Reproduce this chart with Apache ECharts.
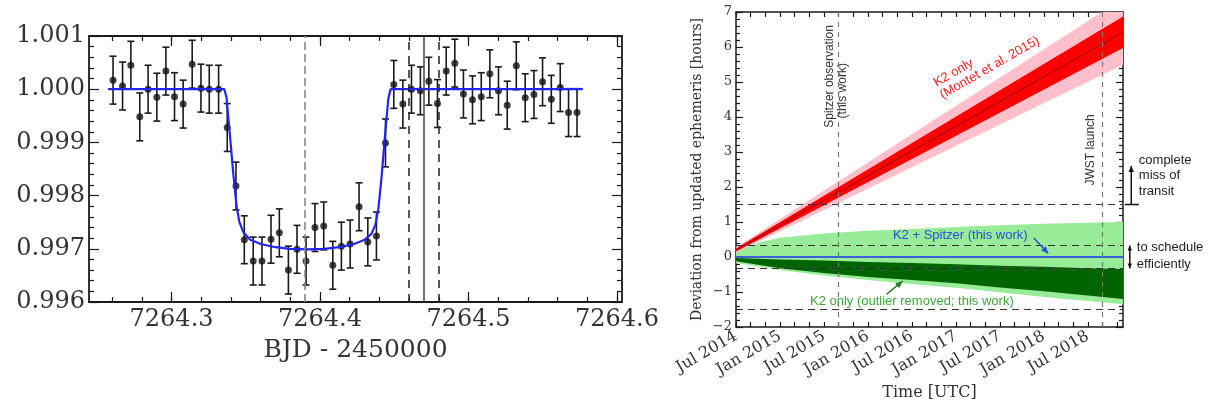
<!DOCTYPE html>
<html>
<head>
<meta charset="utf-8">
<title>K2-18b Spitzer transit and ephemeris</title>
<script src="https://cdn.jsdelivr.net/npm/echarts@6/dist/echarts.min.js"></script>
<style>
  html, body { margin: 0; padding: 0; background: #fff; }
  #chart { width: 1213px; height: 411px; }
</style>
</head>
<body>
<div id="chart"></div>
<script>
// ---------- left panel: Spitzer light curve ----------
const bjd = [7264.2606, 7264.2670, 7264.2726, 7264.2786, 7264.2842, 7264.2901, 7264.2962, 7264.3020, 7264.3078, 7264.3139,
  7264.3198, 7264.3254, 7264.3317, 7264.3375, 7264.3434, 7264.3490, 7264.3550, 7264.3609, 7264.3670, 7264.3726,
  7264.3787, 7264.3845, 7264.3906, 7264.3966, 7264.4025, 7264.4086, 7264.4144, 7264.4203, 7264.4263, 7264.4322,
  7264.4380, 7264.4441, 7264.4497, 7264.4558, 7264.4616, 7264.4676, 7264.4733, 7264.4791, 7264.4850, 7264.4908,
  7264.4966, 7264.5027, 7264.5086, 7264.5144, 7264.5202, 7264.5261, 7264.5322, 7264.5382, 7264.5441, 7264.5499,
  7264.5558, 7264.5618, 7264.5674, 7264.5731];
const flux = [1.00017, 1.00006, 1.00045, 0.99948, 1.00000, 0.99985, 1.00034, 0.99986, 0.99972, 1.00047,
  1.00002, 1.00000, 1.00000, 0.99928, 0.99818, 0.99717, 0.99677, 0.99677, 0.99718, 0.99730,
  0.99660, 0.99699, 0.99677, 0.99740, 0.99743, 0.99669, 0.99705, 0.99709, 0.99779, 0.99713,
  0.99724, 0.99899, 1.00009, 0.99972, 1.00000, 0.99997, 1.00015, 0.99973, 1.00034, 1.00049,
  0.99991, 0.99980, 0.99986, 1.00029, 0.99997, 0.99970, 1.00044, 0.99984, 0.99990, 1.00014,
  0.99981, 1.00003, 0.99956, 0.99956];
const fluxErr = 0.00045;

const modelBjd = [7264.2573, 7264.3355, 7264.3370, 7264.3390, 7264.3417, 7264.3437, 7264.3457, 7264.3484, 7264.3530,
  7264.3600, 7264.3700, 7264.3800, 7264.3915, 7264.4030, 7264.4130, 7264.4230, 7264.4300, 7264.4346, 7264.4373,
  7264.4393, 7264.4413, 7264.4440, 7264.4460, 7264.4475, 7264.5770];
const modelFlux = [1.0000, 1.0000, 0.99985, 0.99923, 0.99838, 0.99782, 0.99750, 0.99731, 0.99717,
  0.99709, 0.99703, 0.99700, 0.99699, 0.99700, 0.99703, 0.99709, 0.99717, 0.99728, 0.99745,
  0.99775, 0.99830, 0.99920, 0.99982, 1.0000, 1.0000];

const midTransit = 7264.3918;
const predicted = [7264.4585, 7264.4692, 7264.4798]; // -1 sigma, centre, +1 sigma
const bjdTicks = [7264.3, 7264.4, 7264.5, 7264.6];

// ---------- right panel: ephemeris forecast (hours) ----------
const timeTicks = [2014.5, 2015.0, 2015.5, 2016.0, 2016.5, 2017.0, 2017.5, 2018.0, 2018.5];
const timeLabels = ['Jul 2014', 'Jan 2015', 'Jul 2015', 'Jan 2016', 'Jul 2016', 'Jan 2017', 'Jul 2017', 'Jan 2018', 'Jul 2018'];

const redT = [2014.5, 2018.9];
const pinkLo = [0.12, 5.49];
const pinkHi = [0.28, 7.39];
const redLo = [0.16, 5.97];
const redHi = [0.24, 6.87];
const redMid = [0.20, 6.42];

const greenT = [2014.5, 2014.75, 2015.0, 2015.5, 2016.0, 2016.5, 2017.0, 2017.5, 2018.0, 2018.5, 2018.9];
const lightHi = [0.15, 0.41, 0.55, 0.67, 0.75, 0.80, 0.86, 0.91, 0.95, 0.98, 1.00];
const lightLo = [-0.17, -0.27, -0.37, -0.53, -0.66, -0.77, -0.88, -1.01, -1.14, -1.26, -1.35];
const darkHi = [-0.03, -0.05, -0.07, -0.10, -0.14, -0.17, -0.21, -0.25, -0.28, -0.32, -0.34];
const darkLo = [-0.12, -0.22, -0.32, -0.46, -0.57, -0.66, -0.75, -0.87, -0.98, -1.10, -1.20];

const blueT = [2014.5, 2018.9];
const blueV = [0, 0];

const limits = [1.5, 0.33, -0.33, -1.5];
const spitzerTime = 2015.664;
const jwstTime = 2018.66;

// ---------- styling ----------
const serif = "'DejaVu Serif', 'Liberation Serif', serif";
const sans = "'Liberation Sans', Arial, sans-serif";
const axisColor = '#1a1a1a';
const textColor = '#333';

const bjdMin = 7264.2444, bjdMax = 7264.6034;
const bjdMinor = [];
for (let v = 7264.26; v < 7264.605; v += 0.02) bjdMinor.push(+v.toFixed(2));
const tMin = 2014.5, tMax = 2018.9;
const timeMinor = [];
for (let m = 0; m <= 26; m++) timeMinor.push(tMin + m / 6);

const lineStyle = { color: axisColor, width: 1.2 };

const chart = echarts.init(document.getElementById('chart'));

function tickOnly(grid, pos, min, max, values, len) {
  return {
    gridIndex: grid, type: 'value', position: pos, min: min, max: max,
    axisLine: { show: false, onZero: false },
    axisTick: { inside: true, length: len, customValues: values, lineStyle: lineStyle },
    axisLabel: { show: false }, splitLine: { show: false }
  };
}

// filled band between lo and hi, drawn as one polygon through the axis scales
function band(name, t, lo, hi, color) {
  return {
    type: 'custom', name: name, xAxisIndex: 4, yAxisIndex: 2, silent: true, clip: true,
    data: t.map((x, i) => [x, lo[i], hi[i]]),
    encode: { x: 0, y: [1, 2] },
    renderItem: function (params, api) {
      if (params.dataIndex !== 0) return null;
      const upper = t.map((x, i) => api.coord([x, hi[i]]));
      const lower = t.map((x, i) => api.coord([x, lo[i]])).reverse();
      const cs = params.coordSys;
      return {
        type: 'polygon',
        shape: { points: upper.concat(lower) },
        style: { fill: color },
        clipPath: { type: 'rect', shape: { x: cs.x, y: cs.y, width: cs.width, height: cs.height } }
      };
    }
  };
}

const series = [
  {
    type: 'line', name: 'model', xAxisIndex: 0, yAxisIndex: 0,
    data: modelBjd.map((x, i) => [x, modelFlux[i]]),
    symbol: 'none', lineStyle: { color: '#2424f0', width: 2.2 },
    markLine: {
      silent: true, symbol: ['none', 'none'], label: { show: false },
      data: [
        { xAxis: midTransit, lineStyle: { color: '#888', type: [8, 4], width: 1.6 } },
        { xAxis: predicted[0], lineStyle: { color: '#222', type: [8, 6], width: 1.5 } },
        { xAxis: predicted[1], lineStyle: { color: '#444', type: 'solid', width: 1.5 } },
        { xAxis: predicted[2], lineStyle: { color: '#222', type: [8, 6], width: 1.5 } }
      ]
    }
  },
  {
    type: 'custom', name: 'errors', xAxisIndex: 0, yAxisIndex: 0,
    data: bjd.map((x, i) => [x, flux[i], fluxErr]),
    encode: { x: 0, y: 1 },
    renderItem: function (params, api) {
      const x = api.value(0), y = api.value(1), e = api.value(2);
      const hi = api.coord([x, y + e]);
      const lo = api.coord([x, y - e]);
      const w = 3.5;
      const style = { stroke: '#1a1a1a', lineWidth: 1.6 };
      return {
        type: 'group', children: [
          { type: 'line', shape: { x1: hi[0], y1: hi[1], x2: lo[0], y2: lo[1] }, style: style },
          { type: 'line', shape: { x1: hi[0] - w, y1: hi[1], x2: hi[0] + w, y2: hi[1] }, style: style },
          { type: 'line', shape: { x1: lo[0] - w, y1: lo[1], x2: lo[0] + w, y2: lo[1] }, style: style }
        ]
      };
    }
  },
  {
    type: 'scatter', name: 'flux', xAxisIndex: 0, yAxisIndex: 0,
    data: bjd.map((x, i) => [x, flux[i]]),
    symbolSize: 7, itemStyle: { color: '#111' }
  },
  band('light green', greenT, lightLo, lightHi, '#98ec98'),
  band('dark green', greenT, darkLo, darkHi, '#006400'),
  band('pink', redT, pinkLo, pinkHi, '#ffc0cb'),
  band('red', redT, redLo, redHi, '#ff0000'),
  {
    type: 'line', name: 'K2 only', xAxisIndex: 4, yAxisIndex: 2,
    data: redT.map((x, i) => [x, redMid[i]]), symbol: 'none', silent: true,
    lineStyle: { color: '#9a0000', width: 1 }
  },
  {
    type: 'line', name: 'K2 + Spitzer', xAxisIndex: 4, yAxisIndex: 2,
    data: blueT.map((x, i) => [x, blueV[i]]), symbol: 'none', silent: true,
    lineStyle: { color: '#3a5fd6', width: 2 },
    markLine: {
      silent: true, symbol: ['none', 'none'], label: { show: false },
      data: limits.map(v => ({ yAxis: v, lineStyle: { color: '#333', type: [7, 5], width: 1.2 } }))
        .concat([spitzerTime, jwstTime].map(t => ({ xAxis: t, lineStyle: { color: '#777', type: [5, 5], width: 1.2 } })))
    }
  }
];
const blueIdx = series.length - 1;

chart.setOption({
  animation: false,
  grid: [
    { left: 89, top: 36, width: 533, height: 266, outerBoundsMode: 'none' },
    { left: 736, top: 12, width: 387, height: 315, outerBoundsMode: 'none' }
  ],
  xAxis: [
    {
      gridIndex: 0, type: 'value', position: 'bottom', min: bjdMin, max: bjdMax,
      axisLine: { onZero: false, lineStyle: { color: axisColor, width: 1.8 } },
      axisTick: { inside: true, length: 5, customValues: bjdMinor, lineStyle: lineStyle },
      axisLabel: { customValues: bjdTicks, formatter: v => v.toFixed(1), margin: 6, fontFamily: serif, fontSize: 24, color: textColor },
      splitLine: { show: false },
      name: 'BJD - 2450000', nameLocation: 'middle', nameGap: 36,
      nameTextStyle: { fontFamily: serif, fontSize: 25, color: textColor }
    },
    tickOnly(0, 'bottom', bjdMin, bjdMax, bjdTicks, 10),
    {
      gridIndex: 0, type: 'value', position: 'top', min: bjdMin, max: bjdMax,
      axisLine: { onZero: false, lineStyle: { color: axisColor, width: 1.8 } },
      axisTick: { inside: true, length: 5, customValues: bjdMinor, lineStyle: lineStyle },
      axisLabel: { show: false }, splitLine: { show: false }
    },
    tickOnly(0, 'top', bjdMin, bjdMax, bjdTicks, 10),
    {
      gridIndex: 1, type: 'value', position: 'bottom', min: tMin, max: tMax,
      axisLine: { onZero: false, lineStyle: { color: axisColor, width: 1.5 } },
      axisTick: { inside: true, length: 5, customValues: timeMinor, lineStyle: lineStyle },
      axisLabel: {
        customValues: timeTicks, rotate: 30, margin: 8, fontFamily: serif, fontSize: 16, color: textColor,
        formatter: v => timeLabels[timeTicks.findIndex(t => Math.abs(t - v) < 1e-6)] || ''
      },
      splitLine: { show: false },
      name: 'Time [UTC]', nameLocation: 'middle', nameGap: 55,
      nameTextStyle: { fontFamily: serif, fontSize: 16, color: textColor }
    },
    {
      gridIndex: 1, type: 'value', position: 'top', min: tMin, max: tMax,
      axisLine: { onZero: false, lineStyle: { color: axisColor, width: 1.5 } },
      axisTick: { inside: true, length: 5, customValues: timeMinor, lineStyle: lineStyle },
      axisLabel: { show: false }, splitLine: { show: false }
    }
  ],
  yAxis: [
    {
      gridIndex: 0, type: 'value', position: 'left', min: 0.996, max: 1.001, interval: 0.001,
      axisLine: { onZero: false, lineStyle: { color: axisColor, width: 1.8 } },
      axisTick: { inside: true, length: 10, lineStyle: lineStyle },
      minorTick: { show: true, splitNumber: 5, length: 5, lineStyle: lineStyle },
      axisLabel: { formatter: v => v.toFixed(3), margin: 4, fontFamily: serif, fontSize: 24, color: textColor },
      splitLine: { show: false }, minorSplitLine: { show: false }
    },
    {
      gridIndex: 0, type: 'value', position: 'right', min: 0.996, max: 1.001, interval: 0.001,
      axisLine: { onZero: false, lineStyle: { color: axisColor, width: 1.8 } },
      axisTick: { inside: true, length: 10, lineStyle: lineStyle },
      minorTick: { show: true, splitNumber: 5, length: 5, lineStyle: lineStyle },
      axisLabel: { show: false }, splitLine: { show: false }, minorSplitLine: { show: false }
    },
    {
      gridIndex: 1, type: 'value', position: 'left', min: -2, max: 7, interval: 1,
      axisLine: { onZero: false, lineStyle: { color: axisColor, width: 1.5 } },
      axisTick: { inside: true, length: 7, lineStyle: lineStyle },
      minorTick: { show: true, splitNumber: 5, length: 4, lineStyle: lineStyle },
      axisLabel: {
        formatter: v => (v < 0 ? '\u2212' + (-v) : String(v)),
        margin: 4, fontFamily: serif, fontSize: 13, color: textColor
      },
      splitLine: { show: false }, minorSplitLine: { show: false },
      name: 'Deviation from updated ephemeris [hours]', nameLocation: 'middle', nameGap: 32,
      nameTextStyle: { fontFamily: serif, fontSize: 14, color: textColor }
    },
    {
      gridIndex: 1, type: 'value', position: 'right', min: -2, max: 7, interval: 1,
      axisLine: { onZero: false, lineStyle: { color: axisColor, width: 1.5 } },
      axisTick: { inside: true, length: 7, lineStyle: lineStyle },
      minorTick: { show: true, splitNumber: 5, length: 4, lineStyle: lineStyle },
      axisLabel: { show: false }, splitLine: { show: false }, minorSplitLine: { show: false }
    }
  ],
  series: series
});

// ---------- annotations, placed in data coordinates of the right panel ----------
const P = (t, v) => chart.convertToPixel({ seriesIndex: blueIdx }, [t, v]);

function text(t, v, str, opt) {
  const p = P(t, v);
  return {
    type: 'text', x: p[0], y: p[1], z: 100, rotation: (opt.rotate || 0) * Math.PI / 180,
    style: {
      text: str, fill: opt.color || '#333', font: (opt.size || 12) + 'px ' + sans,
      textAlign: opt.align || 'left', textVerticalAlign: 'middle', lineHeight: opt.lineHeight || 14
    }
  };
}

function arrow(a, b, color, head, twoSided) {
  const p1 = P(a[0], a[1]), p2 = P(b[0], b[1]);
  const els = [{ type: 'line', z: 100, shape: { x1: p1[0], y1: p1[1], x2: p2[0], y2: p2[1] }, style: { stroke: color, lineWidth: 1.5 } }];
  const tip = (from, to) => {
    const ang = Math.atan2(to[1] - from[1], to[0] - from[0]);
    const bx = to[0] - head * Math.cos(ang), by = to[1] - head * Math.sin(ang);
    const hw = head * 0.45;
    return {
      type: 'polygon', z: 100,
      shape: { points: [to, [bx + hw * Math.sin(ang), by - hw * Math.cos(ang)], [bx - hw * Math.sin(ang), by + hw * Math.cos(ang)]] },
      style: { fill: color }
    };
  };
  els.push(tip(p1, p2));
  if (twoSided) els.push(tip(p2, p1));
  return els;
}

const barL = P(2018.92, 1.5), barR = P(2019.08, 1.5);

chart.setOption({
  graphic: [
    text(2016.76, 4.95, 'K2 only', { color: '#ff2020', size: 13, rotate: 30 }),
    text(2016.83, 4.60, '(Montet et al. 2015)', { color: '#ff2020', size: 13, rotate: 30 }),
    text(2016.284, 0.61, 'K2 + Spitzer (this work)', { color: '#2a4fd6', size: 13 }),
    ...arrow([2017.886, 0.54], [2018.05, 0.10], '#2a4fd6', 7),
    text(2015.341, -1.265, 'K2 only (outlier removed; this work)', { color: '#3da63d', size: 13 }),
    ...arrow([2016.212, -1.064], [2016.394, -0.69], '#1f7a1f', 7),
    text(2015.568, 5.16, 'Spitzer observation', { size: 12, rotate: 90, align: 'center' }),
    text(2015.716, 4.75, '(this work)', { size: 12, rotate: 90, align: 'center' }),
    text(2018.534, 3.06, 'JWST launch', { size: 12, rotate: 90, align: 'center' }),
    text(2019.08, 2.33, 'complete\nmiss of\ntransit', { size: 13, lineHeight: 15.5, color: '#222' }),
    ...arrow([2018.994, 1.5], [2018.994, 2.6], '#111', 6),
    { type: 'line', z: 100, shape: { x1: barL[0], y1: barL[1], x2: barR[0], y2: barR[1] }, style: { stroke: '#111', lineWidth: 1.5 } },
    text(2019.057, 0.04, 'to schedule\nefficiently', { size: 13, lineHeight: 17, color: '#222' }),
    ...arrow([2018.977, -0.33], [2018.977, 0.33], '#111', 5, true)
  ]
});
</script>
</body>
</html>
